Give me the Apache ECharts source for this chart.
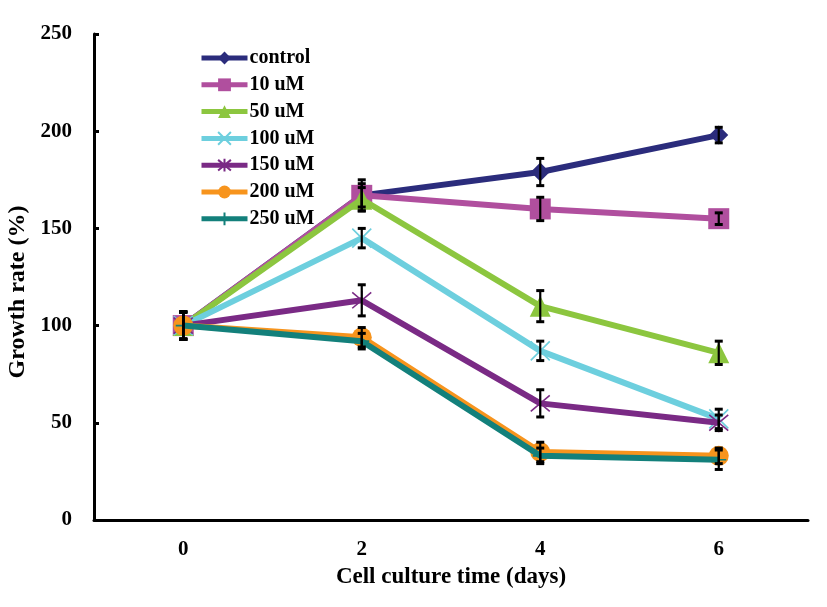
<!DOCTYPE html>
<html><head><meta charset="utf-8">
<script src="https://cdn.jsdelivr.net/npm/echarts@6/dist/echarts.min.js"></script>
<style>html,body{margin:0;padding:0;background:#fff}#c{width:827px;height:607px}</style>
</head><body><div id="c"></div>
<script>
// ---- data ----
const categories = ['0', '2', '4', '6'];
const seriesNames = ['control', '10 uM', '50 uM', '100 uM', '150 uM', '200 uM', '250 uM'];
const control = [100, 167, 179, 198];
const uM10 = [100, 167, 160, 155];
const uM50 = [100, 165, 110, 86];
const uM100 = [100, 145, 87, 52];
const uM150 = [100, 113, 60, 50];
const uM200 = [100, 94, 35, 33];
const uM250 = [100, 92, 33, 31];
const errControl = [7, 8, 7, 4];
const err10 = [7, 6, 6, 3];
const err50 = [7, 6, 8, 6];
const err100 = [7, 5, 5, 5];
const err150 = [7, 8, 7, 4];
const err200 = [7, 5, 5, 4];
const err250 = [7, 4, 4, 5];
const yTicks = [0, 50, 100, 150, 200, 250];

// ---- styling ----
const values = [control, uM10, uM50, uM100, uM150, uM200, uM250];
const errors = [errControl, err10, err50, err100, err150, err200, err250];
const colors = ['#2B2C7C', '#B04F9E', '#8CC63F', '#6DCFDE', '#7A2A85', '#F7941D', '#13807B'];
const symbols = [
  'diamond', 'rect', 'triangle',
  'path://M0,0L10,10M10,0L0,10',
  'path://M0,0L10,10M10,0L0,10M5,-1L5,11',
  'circle',
  'path://M5,0L5,10M0,5L10,5'
];
const symbolSizes = [19, 21, 21, 19, 19, 20, 15];
const stroked = [false, false, false, true, true, false, true];
const font = '"Liberation Serif", "Times New Roman", serif';

const series = seriesNames.map((n, i) => ({
  name: n,
  type: 'line',
  data: values[i],
  symbol: symbols[i],
  symbolSize: symbolSizes[i],
  showAllSymbol: true,
  lineStyle: { color: colors[i], width: 6 },
  itemStyle: stroked[i]
    ? { color: colors[i], borderColor: colors[i], borderWidth: 1.6 }
    : { color: colors[i], borderWidth: 0 },
  z: 2 + i,
  animation: false
}));

const errData = [];
values.forEach((v, i) => v.forEach((y, x) => errData.push([x, y - errors[i][x], y + errors[i][x]])));

series.push({
  type: 'custom',
  name: 'err',
  z: 20,
  animation: false,
  renderItem: function (params, api) {
    const x = api.value(0);
    const lo = api.coord([x, api.value(1)]);
    const hi = api.coord([x, api.value(2)]);
    const w = 4;
    return {
      type: 'group',
      children: [
        { type: 'line', shape: { x1: lo[0], y1: lo[1], x2: hi[0], y2: hi[1] }, style: { stroke: '#000', lineWidth: 2.2 } },
        { type: 'line', shape: { x1: lo[0] - w, y1: lo[1], x2: lo[0] + w, y2: lo[1] }, style: { stroke: '#000', lineWidth: 3 } },
        { type: 'line', shape: { x1: hi[0] - w, y1: hi[1], x2: hi[0] + w, y2: hi[1] }, style: { stroke: '#000', lineWidth: 3 } }
      ]
    };
  },
  encode: { x: 0, y: [1, 2] },
  data: errData
});

const chart = echarts.init(document.getElementById('c'));
chart.setOption({
  backgroundColor: '#fff',
  animation: false,
  grid: { left: 94, right: 19, top: 34, bottom: 87 },
  legend: {
    data: seriesNames,
    orient: 'vertical',
    left: 194,
    top: 43,
    itemWidth: 46,
    itemHeight: 16,
    itemGap: 6.8,
    lineStyle: { width: 5 },
    textStyle: { fontFamily: font, fontWeight: 'bold', fontSize: 20, lineHeight: 18, color: '#000', padding: [0, 0, 0, -3] },
    selectedMode: false
  },
  xAxis: {
    type: 'category',
    data: categories,
    boundaryGap: true,
    axisLine: { lineStyle: { color: '#000', width: 3 } },
    axisTick: { inside: true, length: 5, lineStyle: { color: '#000', width: 3 } },
    axisLabel: { margin: 19, fontFamily: font, fontWeight: 'bold', fontSize: 21, color: '#000' },
    name: 'Cell culture time (days)',
    nameLocation: 'middle',
    nameGap: 46,
    nameTextStyle: { fontFamily: font, fontWeight: 'bold', fontSize: 23, color: '#000' },
    splitLine: { show: false }
  },
  yAxis: {
    type: 'value',
    min: yTicks[0],
    max: yTicks[yTicks.length - 1],
    interval: 50,
    axisLine: { show: true, lineStyle: { color: '#000', width: 3 } },
    axisTick: { show: true, inside: true, length: 5, lineStyle: { color: '#000', width: 3 } },
    axisLabel: { margin: 22, fontFamily: font, fontWeight: 'bold', fontSize: 21, color: '#000' },
    splitLine: { show: false }
  },
  graphic: [{
    type: 'text',
    x: 18, y: 292,
    rotation: Math.PI / 2,
    style: {
      text: 'Growth rate (%)',
      font: 'bold 24px ' + font,
      fill: '#000',
      align: 'center',
      verticalAlign: 'middle'
    }
  }],
  series: series
});
</script>
</body></html>
